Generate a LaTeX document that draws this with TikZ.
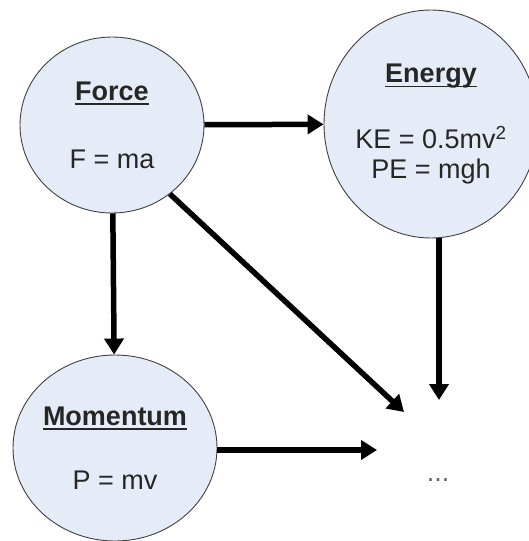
\documentclass[tikz,border=0pt]{standalone}
\usepackage{fontspec}
\setmainfont{Liberation Sans}
\usetikzlibrary{shapes.geometric,arrows.meta}
\definecolor{bubble}{RGB}{230,236,247}
\definecolor{ink}{RGB}{38,38,38}
\newcommand\ulbox[1]{\setbox0\hbox{#1}\rlap{\rule[-5pt]{\wd0}{1.8pt}}\box0}
\begin{document}
\begin{tikzpicture}[x=1pt,y=-1pt,
  concept/.style={ellipse,draw=black!75,line width=0.9pt,fill=bubble,inner sep=0pt,text=ink,align=center,font=\fontsize{27}{30}\selectfont},
  link/.style={line width=5.5pt,-{Triangle[length=16pt 0 0,width=19pt 0 0]}}]
\useasboundingbox (0,0) rectangle (528,541);
\node[concept,minimum width=184pt,minimum height=176pt] (force) at (112,125)
  {\ulbox{\textbf{Force}}\\[38pt]F = ma};
\node[concept,minimum width=194pt,minimum height=228pt] (energy) at (431,124)
  {\ulbox{\textbf{Energy}}\\[36pt]KE = 0.5mv\textsuperscript{2}\\PE = mgh};
\node[concept,minimum width=204pt,minimum height=186pt] (momentum) at (115,448)
  {\ulbox{\textbf{Momentum}}\\[34pt]P = mv};
\node[text=black!60,font=\fontsize{27}{30}\selectfont,inner sep=0pt,anchor=base] (dots) at (438,481) {...};
\coordinate (t1) at (404,412);
\coordinate (t2) at (439,400);
\coordinate (t3) at (377,450);
\draw[link] (force) -- (energy);
\draw[link] (force) -- (momentum);
\draw[link] (force.-50) -- (t1);
\draw[link] (energy.south -| t2) -- (t2);
\draw[link] (momentum.east |- t3) -- (t3);
\end{tikzpicture}
\end{document}
